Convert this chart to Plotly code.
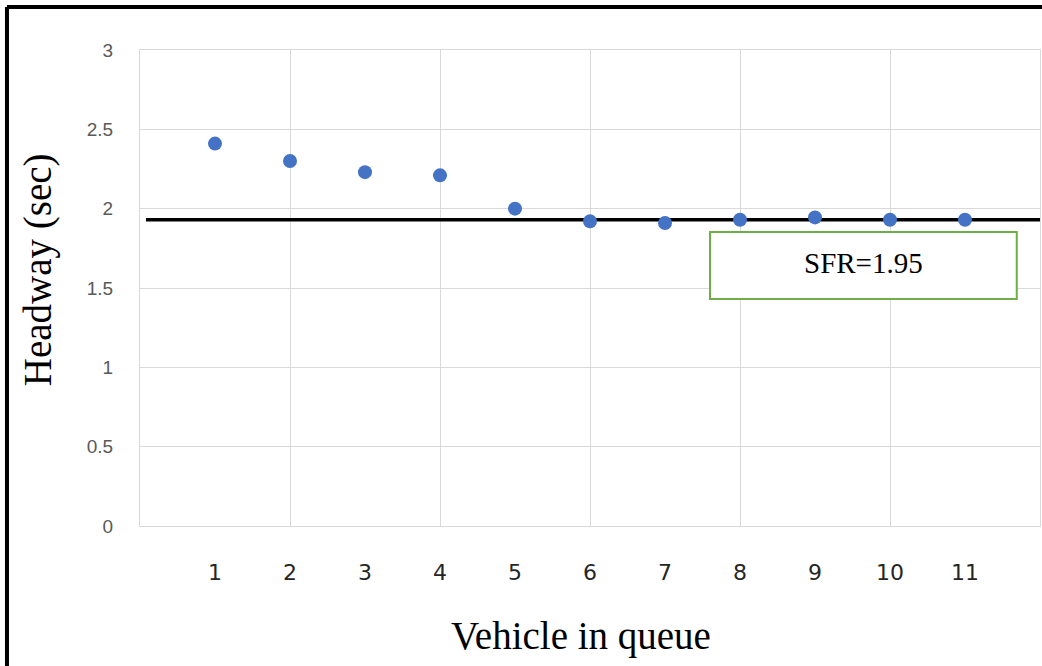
import plotly.graph_objects as go

vehicles = [1, 2, 3, 4, 5, 6, 7, 8, 9, 10, 11]
headway = [2.41, 2.30, 2.23, 2.21, 2.00, 1.92, 1.91, 1.93, 1.945, 1.93, 1.93]
tick_labels = [str(v) for v in vehicles]
y_ticks = [0, 0.5, 1, 1.5, 2, 2.5, 3]
y_tick_labels = ["0", "0.5", "1", "1.5", "2", "2.5", "3"]
sfr_x = [0.08, 12]
sfr_y = [1.93, 1.93]
sfr_label = "SFR=1.95"
box_x = [7.6, 11.69]
box_y = [1.431, 1.853]
x_title = "Vehicle in queue"
y_title = "Headway (sec)"

grid = "#d9d9d9"

fig = go.Figure()
fig.add_trace(go.Scatter(x=sfr_x, y=sfr_y, mode="lines",
                         line=dict(color="black", width=3.5),
                         xaxis="x", yaxis="y", showlegend=False, hoverinfo="skip"))
fig.add_trace(go.Scatter(x=vehicles, y=headway, mode="markers",
                         marker=dict(color="#4472C4", size=14),
                         xaxis="x2", yaxis="y", showlegend=False))

fig.add_shape(type="rect", xref="x", yref="y",
              x0=box_x[0], x1=box_x[1], y0=box_y[0], y1=box_y[1],
              line=dict(color="#70AD47", width=2), fillcolor="white", layer="above")
fig.add_annotation(x=(box_x[0] + box_x[1]) / 2, y=(box_y[0] + box_y[1]) / 2 + 0.015,
                   xref="x", yref="y", text=sfr_label, showarrow=False,
                   font=dict(family="Liberation Serif", size=29, color="black"))

# axis titles
fig.add_annotation(x=0.49, y=-0.231, xref="paper", yref="paper", text=x_title,
                   showarrow=False, xanchor="center", yanchor="middle",
                   font=dict(family="Liberation Serif", size=39, color="black"))
fig.add_annotation(x=-0.113, y=0.538, xref="paper", yref="paper", text=y_title,
                   showarrow=False, xanchor="center", yanchor="middle", textangle=-90,
                   font=dict(family="Liberation Serif", size=39, color="black"))

# outer frame (top and left)
fig.add_shape(type="line", xref="paper", yref="paper", x0=-0.1478, x1=1.01, y0=1.0903, y1=1.0903,
              line=dict(color="black", width=4))
fig.add_shape(type="line", xref="paper", yref="paper", x0=-0.1478, x1=-0.1478, y0=1.0903, y1=-0.30,
              line=dict(color="black", width=4))

fig.update_layout(
    width=1042, height=666,
    margin=dict(l=140, r=2, t=50, b=140),
    paper_bgcolor="white", plot_bgcolor="white",
    xaxis=dict(range=[0, 12], dtick=2, tick0=0, showgrid=True, gridcolor=grid, gridwidth=1,
               showticklabels=False, zeroline=False, showline=True, mirror=True,
               linecolor=grid, linewidth=1, ticks=""),
    xaxis2=dict(range=[0, 12], overlaying="x", side="bottom", anchor="y",
                tickvals=vehicles, ticktext=tick_labels, showgrid=False, zeroline=False,
                ticks="", ticklabelstandoff=31,
                tickfont=dict(family="DejaVu Sans", size=22, color="#262626")),
    yaxis=dict(range=[0, 3], tickvals=y_ticks, ticktext=y_tick_labels, showgrid=True,
               gridcolor=grid, gridwidth=1, zeroline=False, showline=True, mirror=True,
               linecolor=grid, linewidth=1, ticks="", ticklabelstandoff=22,
               tickfont=dict(family="Liberation Sans", size=19, color="#595959")),
)

fig.write_html("out.html")
